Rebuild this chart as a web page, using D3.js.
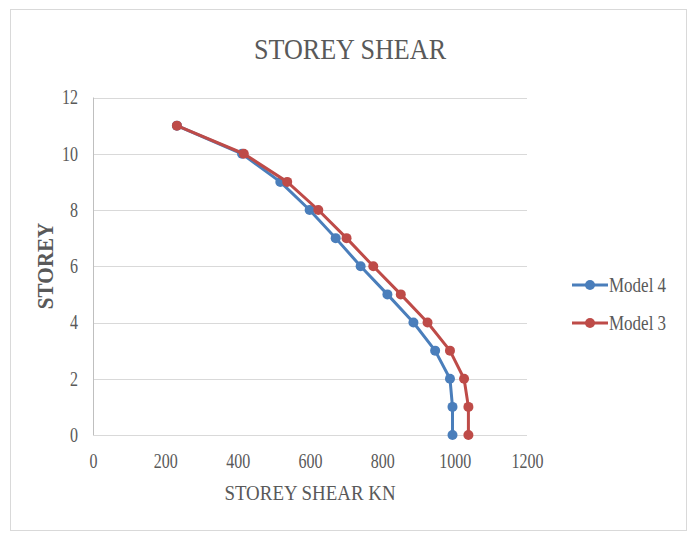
<!DOCTYPE html>
<html><head><meta charset="utf-8">
<script src="https://cdn.jsdelivr.net/npm/d3@7"></script>
<style>
html,body{margin:0;padding:0;background:#fff;}
text{font-family:"Liberation Serif","Times New Roman",serif;fill:#595959;}
</style></head>
<body>
<svg id="chart" width="694" height="533"></svg>
<script>
const storeys = [0,1,2,3,4,5,6,7,8,9,10,11];
const model4 = [994,994,987,946,886,814,740,671,599,518,412,232];
const model3 = [1038,1038,1026,987,925,851,775,701,623,537,417,232];
const xTicks = [0,200,400,600,800,1000,1200];
const yTicks = [0,2,4,6,8,10,12];
const seriesNames = ["Model 4","Model 3"];
const seriesColors = ["#4a7ebb","#be4b48"];

const svg = d3.select("#chart");
svg.append("rect").attr("x",10.5).attr("y",9.5).attr("width",676).attr("height",521)
  .attr("fill","#fff").attr("stroke","#d9d9d9");

const x = d3.scaleLinear().domain([0,1200]).range([93,527]);
const y = d3.scaleLinear().domain([0,12]).range([435,97.5]);

// gridlines
svg.append("g").selectAll("line").data(yTicks).join("line")
  .attr("x1",x(0)).attr("x2",x(1200))
  .attr("y1",d=>Math.round(y(d))+0.5).attr("y2",d=>Math.round(y(d))+0.5)
  .attr("stroke","#d9d9d9").attr("stroke-width",1);
svg.append("line").attr("x1",x(0)+0.5).attr("x2",x(0)+0.5).attr("y1",y(0)).attr("y2",y(12))
  .attr("stroke","#bfbfbf");

const SX = 0.8;
const xAxis = svg.append("g").attr("transform",`translate(0,${y(0)})`)
  .call(d3.axisBottom(x).tickValues(xTicks).tickSize(0).tickPadding(19).tickFormat(d3.format("d")));
xAxis.select(".domain").remove();
xAxis.selectAll("text").attr("font-size",20).style("font-family","'Liberation Serif',serif")
  .attr("fill","#595959").attr("transform",`scale(${SX},1)`);

const yAxis = svg.append("g").attr("transform",`translate(${x(0)},0)`)
  .call(d3.axisLeft(y).tickValues(yTicks).tickSize(0).tickFormat(d3.format("d")));
yAxis.select(".domain").remove();
yAxis.selectAll("text").attr("font-size",20).style("font-family","'Liberation Serif',serif")
  .attr("fill","#595959").attr("x",-15/SX).attr("transform",`scale(${SX},1)`);

// titles
svg.append("text").attr("transform","translate(350,59) scale(0.87,1)").attr("text-anchor","middle")
  .attr("font-size",30).text("STOREY SHEAR");
svg.append("text").attr("transform","translate(310,500) scale(0.86,1)").attr("text-anchor","middle")
  .attr("font-size",22).text("STOREY SHEAR KN");
svg.append("text").attr("transform","translate(53,266) rotate(-90) scale(0.92,1)").attr("text-anchor","middle")
  .attr("font-size",23).attr("font-weight","bold").text("STOREY");

const line = d3.line().x(d=>x(d.v)).y(d=>y(d.s));
const series = [model4, model3];
series.forEach((vals,i)=>{
  const pts = vals.map((v,k)=>({v, s: storeys[k]}));
  svg.append("path").datum(pts).attr("d",line).attr("fill","none")
    .attr("stroke",seriesColors[i]).attr("stroke-width",3).attr("stroke-linejoin","round");
  svg.append("g").selectAll("circle").data(pts).join("circle")
    .attr("cx",d=>x(d.v)).attr("cy",d=>y(d.s)).attr("r",5).attr("fill",seriesColors[i]);
});

// legend
const lg = svg.append("g");
seriesNames.forEach((n,i)=>{
  const yy = 285 + i*38;
  lg.append("line").attr("x1",572).attr("x2",608).attr("y1",yy).attr("y2",yy)
    .attr("stroke",seriesColors[i]).attr("stroke-width",3);
  lg.append("circle").attr("cx",590).attr("cy",yy).attr("r",5).attr("fill",seriesColors[i]);
  lg.append("text").attr("transform",`translate(609,${yy+7}) scale(0.85,1)`).attr("font-size",20).text(n);
});
</script>
</body></html>
